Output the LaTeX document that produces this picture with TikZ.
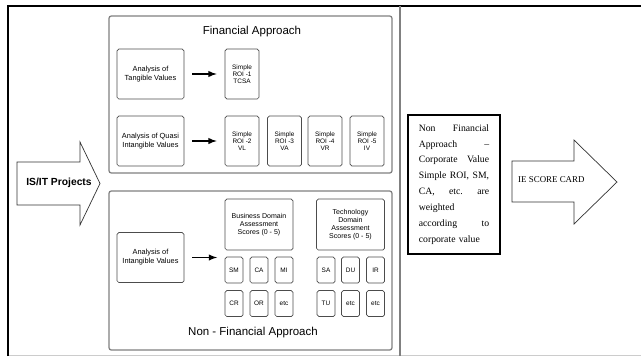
\documentclass[tikz,border=0pt]{standalone}
\usepackage{fontspec}
\setmainfont{Liberation Sans}
\newfontfamily\notefont{Liberation Serif}
\tikzstyle{box}=[draw=black!70,line width=0.6pt,rounded corners=1.5pt,align=center,inner sep=1pt]
\tikzstyle{bigbox}=[box,minimum width=2.01cm,minimum height=1.5cm,font=\fontsize{6.3}{7.6}\selectfont]
\tikzstyle{roibox}=[box,minimum width=1.02cm,minimum height=1.5cm,font=\fontsize{5.5}{6.2}\selectfont]
\tikzstyle{domainbox}=[box,minimum width=2.04cm,minimum height=1.53cm,font=\fontsize{6}{7}\selectfont]
\tikzstyle{tinybox}=[box,minimum width=0.54cm,minimum height=0.78cm,font=\fontsize{5.5}{6.2}\selectfont]
\tikzstyle{frame}=[draw=black!50,line width=1.1pt,rounded corners=2pt]
\tikzstyle{title}=[font=\fontsize{9.8}{11}\selectfont]
\tikzstyle{conn}=[-latex,line width=1.4pt,shorten <=6.8pt,shorten >=6.8pt]
\tikzstyle{bigarrow}=[draw=black!80,line width=0.6pt,fill=white]

\begin{document}
\begin{tikzpicture}[x=0.03cm,y=-0.03cm]
		\useasboundingbox (0,0) rectangle (641,356);
		% outer frame and divider
		\draw[line width=2.5pt] (8,356) -- (8,6) -- (641,6);
		\draw[black!20,line width=0.8pt] (9,355) -- (641,355);
		\draw[black!50,line width=1.1pt] (400,6) -- (400,356);
		% financial approach
		\draw[frame] (109,16) rectangle (392,173);
		\node[title] (fintitle) at (252,32) {Financial Approach};
		\node[bigbox] (tang) at (150.5,74) {Analysis of\\Tangible Values};
		\node[roibox] (roi1) at (242,74) {Simple\\ROI -1\\TCSA};
		\node[bigbox] (quasi) at (150.5,141) {Analysis of Quasi\\Intangible Values};
		\node[roibox] (roi2) at (242,141) {Simple\\ROI -2\\VL};
		\node[roibox] (roi3) at (284.5,141) {Simple\\ROI -3\\VA};
		\node[roibox] (roi4) at (325,141) {Simple\\ROI -4\\VR};
		\node[roibox] (roi5) at (367,141) {Simple\\ROI -5\\IV};
		\draw[conn] (tang) -- (roi1);
		\draw[conn] (quasi) -- (roi2);
		% non financial approach
		\draw[frame] (109,191) rectangle (392,350);
		\node[title] (nfintitle) at (253,333) {Non - Financial Approach};
		\node[bigbox] (intang) at (150.5,257.5) {Analysis of\\Intangible Values};
		\coordinate (nfin) at (225,257.5);
		\draw[conn] (intang) -- (nfin);
		\node[domainbox] (busdom) at (259,224.5) {Business Domain\\Assessment\\Scores (0 - 5)};
		\node[domainbox] (techdom) at (350.5,224.5) {Technology\\Domain\\Assessment\\Scores (0 - 5)};
		\node[tinybox] (sm) at (234,270) {SM};
		\node[tinybox] (ca) at (259,270) {CA};
		\node[tinybox] (mi) at (284,270) {MI};
		\node[tinybox] (cr) at (234,303.5) {CR};
		\node[tinybox] (or) at (259,303.5) {OR};
		\node[tinybox] (etca) at (284,303.5) {etc};
		\node[tinybox] (sa) at (326,270) {SA};
		\node[tinybox] (du) at (350.5,270) {DU};
		\node[tinybox] (ir) at (375.5,270) {IR};
		\node[tinybox] (tu) at (326,303.5) {TU};
		\node[tinybox] (etcb) at (350.5,303.5) {etc};
		\node[tinybox] (etcc) at (375.5,303.5) {etc};
		% block arrows
		\draw[bigarrow] (17,162) -- (80,162) -- (80,142) -- (100,183.5) -- (80,225) -- (80,205) -- (17,205) -- cycle;
		\node[font=\bfseries\fontsize{8.8}{10}\selectfont] (isit) at (59,183) {IS/IT Projects};
		\draw[bigarrow] (512,161) -- (574,161) -- (574,140) -- (617,182) -- (574,224) -- (574,202) -- (512,202) -- cycle;
		\node[font=\notefont\fontsize{7.6}{9}\selectfont,anchor=west,inner sep=0pt] (score) at (518,180) {IE SCORE CARD};
		% weighting note
		\node[draw,line width=0.9pt,minimum width=2.76cm,minimum height=4.17cm,text width=60pt,align=left,font=\notefont\fontsize{8.3}{13.6}\selectfont] (note) at (454,184.5)
			{\makebox[60pt]{Non\hfill Financial}\\
			\makebox[60pt]{Approach\hfill –}\\
			\makebox[60pt]{Corporate\hfill Value}\\
			\makebox[60pt]{Simple\hfill ROI,\hfill SM,}\\
			\makebox[60pt]{CA,\hfill etc.\hfill are}\\
			weighted\\
			\makebox[60pt]{according\hfill to}\\
			corporate value};
		\end{tikzpicture}
\end{document}
